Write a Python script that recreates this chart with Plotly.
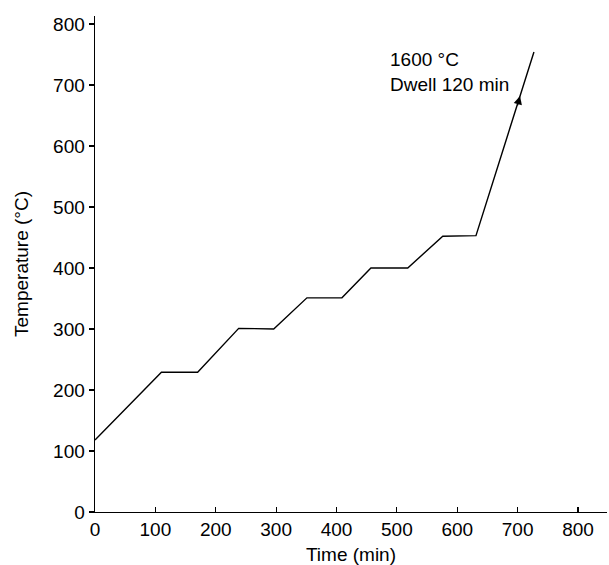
import plotly.graph_objects as go

time_min = [0, 110, 170, 238, 296, 351, 409, 457, 518, 576, 631, 727]
temp_c = [118, 229, 229, 301, 300, 351, 351, 400, 400, 452, 453, 754]

x_ticks = [0, 100, 200, 300, 400, 500, 600, 700, 800]
y_ticks = [0, 100, 200, 300, 400, 500, 600, 700, 800]

label_lines = ["1600 °C", "Dwell 120 min"]

FONT = "Liberation Sans, Arial, sans-serif"
FS = 19

fig = go.Figure()
fig.add_trace(go.Scatter(
    x=time_min, y=temp_c, mode="lines",
    line=dict(color="black", width=1.4),
    showlegend=False, hoverinfo="skip",
))

fig.add_annotation(
    x=704, y=682, ax=699, ay=664, xref="x", yref="y", axref="x", ayref="y",
    text="", showarrow=True, arrowhead=2, arrowsize=1.2, arrowwidth=1.4,
    arrowcolor="black",
)
for txt, yv in zip(label_lines, [742, 700]):
    fig.add_annotation(
        x=485, y=yv, xref="x", yref="y", text=txt,
        showarrow=False, xanchor="left", yanchor="middle", align="left",
        font=dict(size=FS, color="black", family=FONT),
    )

fig.update_layout(
    width=609, height=565,
    margin=dict(l=95, r=2, t=16, b=53),
    plot_bgcolor="white", paper_bgcolor="white",
    font=dict(family=FONT, size=FS, color="black"),
)
fig.update_xaxes(
    range=[0, 848], tickvals=x_ticks, ticktext=[str(v) for v in x_ticks],
    showline=True, linecolor="black", linewidth=1.4, showgrid=False, zeroline=False,
    ticks="inside", ticklen=5, tickwidth=1.2, tickcolor="black", automargin=False,
    title=dict(text="Time (min)", standoff=10, font=dict(size=FS)),
)
fig.update_yaxes(
    range=[0, 813], tickvals=y_ticks, ticktext=[str(v) for v in y_ticks],
    showline=True, linecolor="black", linewidth=1.4, showgrid=False, zeroline=False,
    ticks="outside", ticklen=5, tickwidth=1.2, tickcolor="black", automargin=False,
    title=dict(text="Temperature (°C)", standoff=19, font=dict(size=FS)),
)

fig.write_html(
    "out.html",
    config={"displayModeBar": False, "staticPlot": True},
    post_script="document.body.style.margin='0';document.body.style.overflow='hidden';",
)
